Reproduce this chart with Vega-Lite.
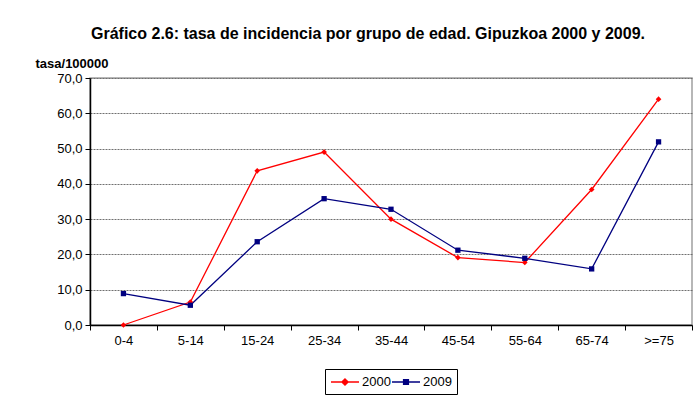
{
  "$schema": "https://vega.github.io/schema/vega-lite/v6.json",
  "width": 602,
  "height": 247,
  "autosize": {"type": "none"},
  "padding": {"left": 90, "top": 78, "right": 6, "bottom": 82},
  "background": "white",
  "title": {
    "text": "Gráfico 2.6: tasa de incidencia por grupo de edad. Gipuzkoa 2000 y 2009.",
    "font": "Liberation Sans",
    "fontSize": 16,
    "fontWeight": "bold",
    "color": "black",
    "anchor": "middle",
    "dx": -23,
    "offset": 15
  },
  "config": {
    "view": {"stroke": "#a0a0a0", "strokeWidth": 1.5},
    "axis": {
      "labelFont": "Liberation Sans",
      "labelFontSize": 13,
      "labelColor": "black",
      "titleFont": "Liberation Sans",
      "titleColor": "black",
      "domainColor": "black",
      "tickColor": "black",
      "tickSize": 5
    },
    "legend": {
      "labelFont": "Liberation Sans",
      "labelFontSize": 13,
      "labelColor": "black",
      "orient": "none",
      "legendX": 235,
      "legendY": 291,
      "direction": "horizontal",
      "strokeColor": "black",
      "padding": 5,
      "symbolSize": 196,
      "symbolOffset": 7,
      "symbolStrokeWidth": 1.3,
      "labelOffset": 9,
      "columnPadding": -3
    }
  },
  "data": {
    "values": [
      {"grupo": "0-4", "year": "2000", "tasa": 0.0},
      {"grupo": "5-14", "year": "2000", "tasa": 6.5},
      {"grupo": "15-24", "year": "2000", "tasa": 43.7},
      {"grupo": "25-34", "year": "2000", "tasa": 49.0},
      {"grupo": "35-44", "year": "2000", "tasa": 30.0},
      {"grupo": "45-54", "year": "2000", "tasa": 19.1},
      {"grupo": "55-64", "year": "2000", "tasa": 17.7},
      {"grupo": "65-74", "year": "2000", "tasa": 38.4},
      {"grupo": ">=75", "year": "2000", "tasa": 64.0},
      {"grupo": "0-4", "year": "2009", "tasa": 8.9},
      {"grupo": "5-14", "year": "2009", "tasa": 5.6},
      {"grupo": "15-24", "year": "2009", "tasa": 23.6},
      {"grupo": "25-34", "year": "2009", "tasa": 35.8},
      {"grupo": "35-44", "year": "2009", "tasa": 32.8},
      {"grupo": "45-54", "year": "2009", "tasa": 21.2},
      {"grupo": "55-64", "year": "2009", "tasa": 18.9},
      {"grupo": "65-74", "year": "2009", "tasa": 15.9},
      {"grupo": ">=75", "year": "2009", "tasa": 51.9}
    ]
  },
  "encoding": {
    "x": {
      "field": "grupo",
      "type": "ordinal",
      "sort": ["0-4", "5-14", "15-24", "25-34", "35-44", "45-54", "55-64", "65-74", ">=75"],
      "scale": {"paddingInner": 0, "paddingOuter": 0},
      "axis": {
        "title": null,
        "labelAngle": 0,
        "labelPadding": 4,
        "tickBand": "extent",
        "grid": false,
        "domainWidth": 1.5
      }
    },
    "y": {
      "field": "tasa",
      "type": "quantitative",
      "scale": {"domain": [0, 70], "nice": false},
      "axis": {
        "values": [0, 10, 20, 30, 40, 50, 60, 70],
        "labelExpr": "replace(format(datum.value, '.1f'), '.', ',')",
        "labelPadding": 3,
        "domainWidth": 1.5,
        "grid": true,
        "gridColor": "#707070",
        "gridDash": [2, 1],
        "gridWidth": 1,
        "title": "tasa/100000",
        "titleAngle": 0,
        "titleFontSize": 13,
        "titleFontWeight": "bold",
        "titleAlign": "left",
        "titleBaseline": "middle",
        "titleX": -55,
        "titleY": -15
      }
    },
    "color": {
      "field": "year",
      "type": "nominal",
      "title": null,
      "scale": {"domain": ["2000", "2009"], "range": ["#ff0000", "#000080"]}
    }
  },
  "layer": [
    {
      "mark": {"type": "line", "strokeWidth": 1.3}
    },
    {
      "transform": [{"filter": "datum.year === '2000'"}],
      "mark": {"type": "point", "filled": true, "opacity": 1, "size": 32, "shape": "diamond"}
    },
    {
      "transform": [{"filter": "datum.year === '2009'"}],
      "mark": {"type": "point", "filled": true, "opacity": 1, "size": 28, "shape": "square"}
    },
    {
      "transform": [{"filter": "false"}],
      "mark": {"type": "point", "filled": false, "opacity": 1, "strokeWidth": 1.3},
      "encoding": {
        "shape": {
          "field": "year",
          "type": "nominal",
          "title": null,
          "scale": {"domain": ["2000", "2009"], "range": ["M-2,0L2,0M0,-0.45L0.45,0L0,0.45L-0.45,0Z", "M-2,0L2,0M-0.35,-0.35L0.35,-0.35L0.35,0.35L-0.35,0.35Z"]}
        }
      }
    }
  ]
}
